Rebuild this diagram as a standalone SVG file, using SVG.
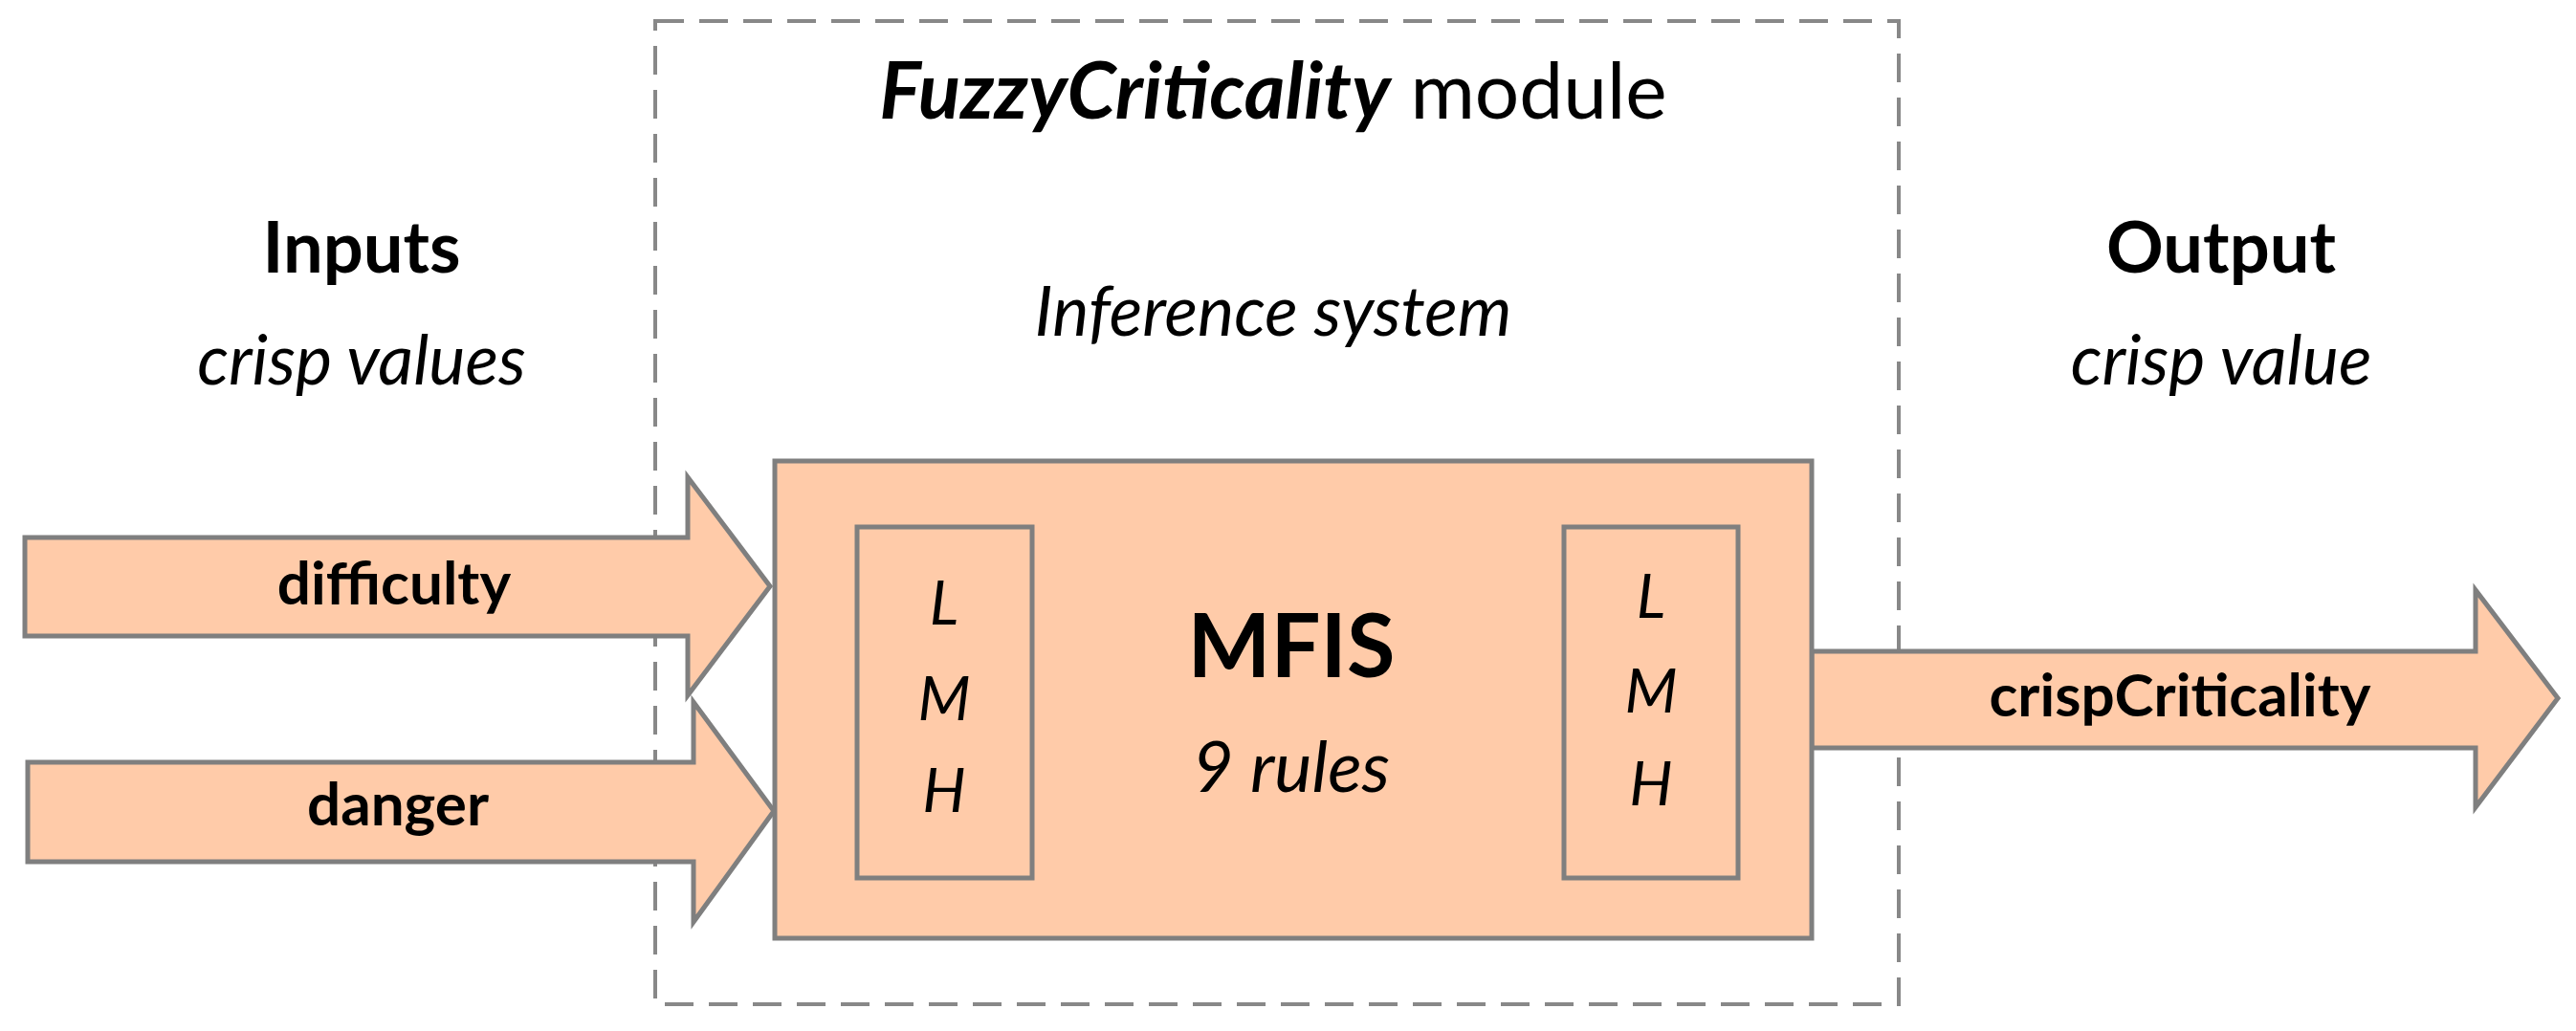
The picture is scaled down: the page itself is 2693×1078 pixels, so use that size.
<svg xmlns="http://www.w3.org/2000/svg" width="2693" height="1078" viewBox="0 0 2693 1078">
<style>
.sh{fill:#FFCBA9;stroke:#7F7F7F;stroke-width:5}
.t{font-family:Lato,"Open Sans",sans-serif;fill:#000;text-anchor:middle}
.b{font-weight:bold}
.i{font-style:italic}
</style>
<rect width="2693" height="1078" fill="#fff"/>
<g id="module">
<rect x="685" y="22" width="1300" height="1028" fill="none" stroke="#888" stroke-width="4" stroke-dasharray="30 16"/>
<text class="t" x="1331" y="124" font-size="82"><tspan class="b i">FuzzyCriticality</tspan> module</text>
<text class="t i" x="1331" y="351" font-size="72">Inference system</text>
</g>
<g id="inputs-label">
<text class="t b" x="378" y="285" font-size="74">Inputs</text>
<text class="t i" x="378" y="402" font-size="72">crisp values</text>
</g>
<g id="output-label">
<text class="t b" x="2322" y="285" font-size="74">Output</text>
<text class="t i" x="2322" y="402" font-size="72">crisp value</text>
</g>
<g id="connectors">
<g id="difficulty">
<polygon class="sh" points="26,562 719,562 719,499 805,613 719,727 719,665 26,665"/>
<text class="t b" x="412" y="632" font-size="62">difficulty</text>
</g>
<g id="danger">
<polygon class="sh" points="29,797 725,797 725,734 809,848 725,964 725,901 29,901"/>
<text class="t b" x="416" y="863" font-size="62">danger</text>
</g>
<g id="crispCriticality">
<polygon class="sh" points="1894,681 2588,681 2588,617 2674,730 2588,844 2588,782 1894,782"/>
<text class="t b" x="2279" y="749" font-size="62">crispCriticality</text>
</g>
</g>
<g id="mfis">
<rect class="sh" x="810" y="482" width="1084" height="499"/>
<text class="t b" x="1350" y="708" font-size="92">MFIS</text>
<text class="t i" x="1350" y="828" font-size="74">9 rules</text>
</g>
<g id="in-sets">
<rect class="sh" x="896" y="551" width="183" height="367"/>
<text class="t i" x="987" y="653" font-size="64">L</text>
<text class="t i" x="987" y="753" font-size="64">M</text>
<text class="t i" x="987" y="849" font-size="64">H</text>
</g>
<g id="out-sets">
<rect class="sh" x="1635" y="551" width="182" height="367"/>
<text class="t i" x="1726" y="646" font-size="64">L</text>
<text class="t i" x="1726" y="745" font-size="64">M</text>
<text class="t i" x="1726" y="842" font-size="64">H</text>
</g>
</svg>
